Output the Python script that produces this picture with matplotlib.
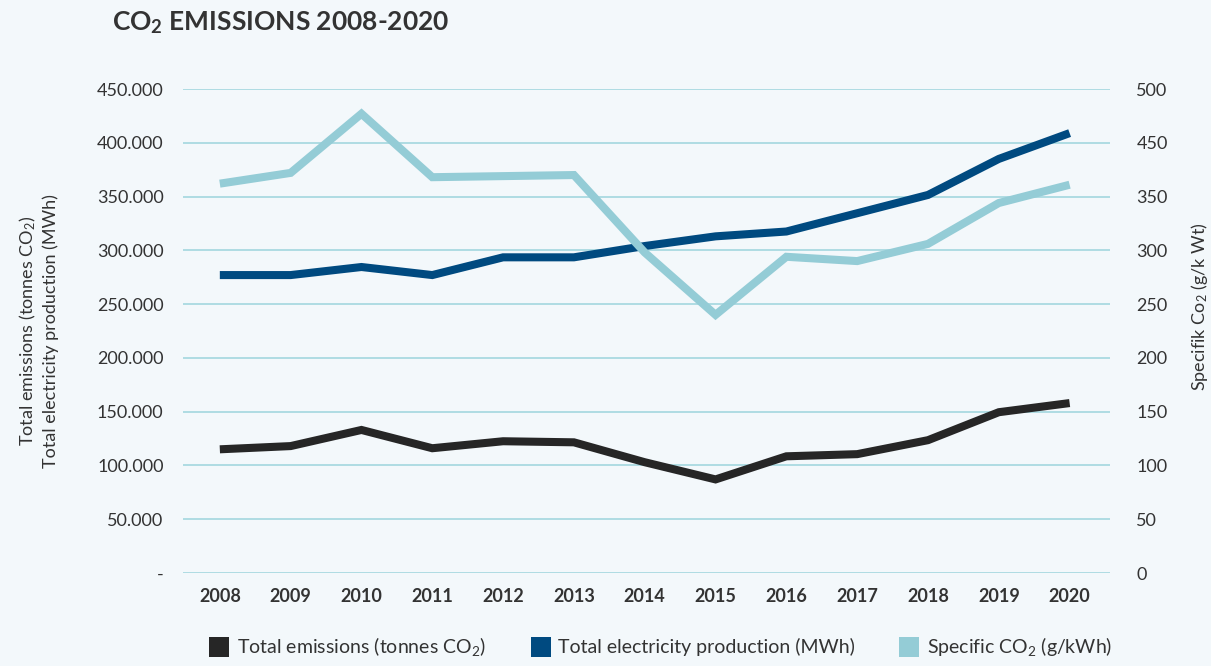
import matplotlib
matplotlib.use("Agg")
import matplotlib.pyplot as plt
from matplotlib.lines import Line2D

plt.rcParams['font.family'] = ['Lato', 'DejaVu Sans']
plt.rcParams['mathtext.fontset'] = 'custom'
plt.rcParams['mathtext.rm'] = 'Lato'
plt.rcParams['mathtext.it'] = 'Lato:italic'
plt.rcParams['mathtext.bf'] = 'Lato:bold'

years = ['2008', '2009', '2010', '2011', '2012', '2013', '2014',
         '2015', '2016', '2017', '2018', '2019', '2020']
total_emissions = [115000, 118000, 133000, 116000, 122500, 121500, 103000,
                   87000, 108500, 110500, 123500, 149500, 158000]
electricity = [277000, 277000, 284500, 277000, 293500, 293500, 304000,
               313000, 317500, 334500, 351500, 385000, 409000]
specific_co2 = [362, 372, 427, 368, 369, 370, 298,
                240, 294, 290, 306, 344, 361]

left_ticks = [0, 50000, 100000, 150000, 200000, 250000, 300000, 350000, 400000, 450000]
left_labels = ['-', '50.000', '100.000', '150.000', '200.000', '250.000',
               '300.000', '350.000', '400.000', '450.000']
right_ticks = [0, 50, 100, 150, 200, 250, 300, 350, 400, 450]
right_labels = ['0', '50', '100', '150', '200', '250', '300', '350', '450', '500']

BG = '#F3F8FB'
GRID = '#A9D9E1'
TXT = '#333333'
C_BLACK = '#262626'
C_DARK = '#004A80'
C_LIGHT = '#94CCD6'

fig = plt.figure(figsize=(12.11, 6.66), dpi=100, facecolor=BG)
ax = fig.add_axes([183/1211, 1-573/666, (1110-183)/1211, (573-89)/666])
ax.set_facecolor(BG)
ax2 = ax.twinx()

x = list(range(len(years)))
lw = 5.8
ax.plot(x, total_emissions, color=C_BLACK, lw=lw, solid_capstyle='butt', solid_joinstyle='miter', zorder=3)
ax.plot(x, electricity, color=C_DARK, lw=lw, solid_capstyle='butt', solid_joinstyle='miter', zorder=3)
ax2.plot(x, specific_co2, color=C_LIGHT, lw=lw, solid_capstyle='butt', solid_joinstyle='miter', zorder=2)

ax.set_xlim(-0.52, 12.57)
ax.set_ylim(0, 450000)
ax2.set_ylim(0, 450)

ax.set_yticks(left_ticks)
ax.set_yticklabels(left_labels)
ax2.set_yticks(right_ticks)
ax2.set_yticklabels(right_labels)
ax.set_xticks(x)
ax.set_xticklabels(years, fontweight='bold')

ax.grid(axis='y', color=GRID, lw=1.3, zorder=0)
ax.set_axisbelow(True)
for a in (ax, ax2):
    for s in a.spines.values():
        s.set_visible(False)
ax.tick_params(axis='y', length=0, pad=14, labelsize=13, labelcolor=TXT)
ax.tick_params(axis='x', length=0, pad=11, labelsize=13, labelcolor=TXT)
ax2.tick_params(axis='y', length=0, pad=19, labelsize=13, labelcolor=TXT)

fig.text(38/1211, 1-331/666,
         'Total emissions (tonnes CO$_2$)\nTotal electricity production (MWh)',
         rotation=90, ha='center', va='center', fontsize=13, color=TXT,
         linespacing=1.3, multialignment='center')
fig.text(1199/1211, 1-307/666, 'Specifik Co$_2$ (g/k Wt)',
         rotation=90, ha='center', va='center', fontsize=13, color=TXT)

fig.text(112/1211, 1-23/666, r'CO$_{\mathbf{2}}$ EMISSIONS 2008-2020',
         fontsize=19, fontweight='bold', color=TXT, ha='left', va='center')

handles = [Line2D([], [], ls='none', marker='s', markersize=15, color=c, markeredgewidth=0)
           for c in (C_BLACK, C_DARK, C_LIGHT)]
labels = ['Total emissions (tonnes CO$_2$)', 'Total electricity production (MWh)',
          'Specific CO$_2$ (g/kWh)']
fig.legend(handles, labels, loc='center', bbox_to_anchor=(660/1211, 1-647/666), ncol=3,
           frameon=False, fontsize=14, labelcolor=TXT, handletextpad=0.3,
           columnspacing=2.2, handlelength=1.2)

fig.savefig('out.png', dpi=100, facecolor=BG)
